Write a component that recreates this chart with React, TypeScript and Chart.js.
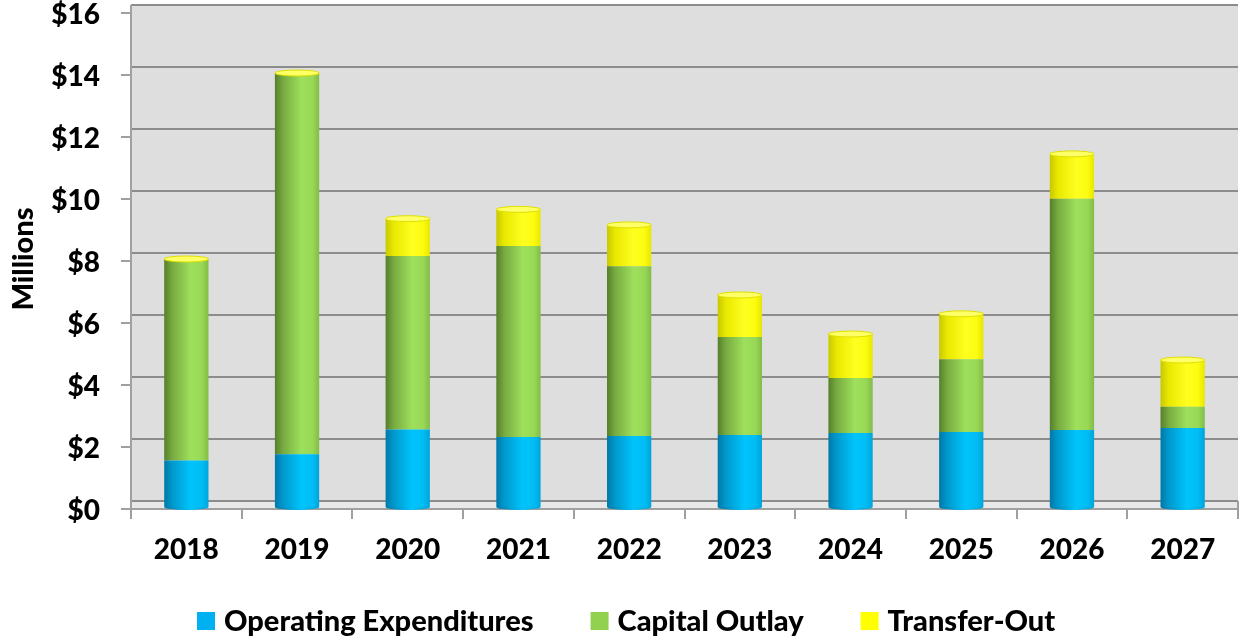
import { useEffect, useRef } from 'react';
import { Chart, registerables } from 'chart.js';

Chart.register(...registerables);

const categories = ['2018', '2019', '2020', '2021', '2022', '2023', '2024', '2025', '2026', '2027'];
const operating = [1.5, 1.7, 2.5, 2.26, 2.29, 2.32, 2.39, 2.42, 2.48, 2.55];
const capital = [6.5, 12.3, 5.6, 6.16, 5.48, 3.16, 1.77, 2.35, 7.46, 0.68];
const transfer = [0, 0, 1.2, 1.18, 1.33, 1.36, 1.42, 1.46, 1.45, 1.51];
const seriesNames = ['Operating Expenditures', 'Capital Outlay', 'Transfer-Out'];
const yTickValues = [0, 2, 4, 6, 8, 10, 12, 14, 16];

const legendColors = ['#00B0F0', '#92D050', '#FFFF00'];
const gradStops = [
  ['#0078A8', '#0098CC', '#00C4FC', '#00BDF4', '#00A4DA'],
  ['#557F2A', '#77AA40', '#9EE05C', '#98D856', '#82BC46'],
  ['#C8C800', '#E8E800', '#FFFF20', '#FCFC10', '#E6E600'],
];
const capColors = ['#40C8F8', '#B0E878', '#FFFF66'];

const BAR_PCT = 0.4;
const WALL_SHIFT = 6;
const FONT = 'Lato';
const WEIGHT = '900';

function cylinder(series: number) {
  return (c: any) => {
    const chart = c.chart;
    const xs = chart.scales && chart.scales.x;
    if (!xs || c.dataIndex === undefined) return legendColors[series];
    const cx = xs.getPixelForValue(c.dataIndex);
    const w = (xs.width / categories.length) * BAR_PCT;
    if (!isFinite(cx) || !isFinite(w) || w <= 0) return legendColors[series];
    const g = chart.ctx.createLinearGradient(cx - w / 2, 0, cx + w / 2, 0);
    const s = gradStops[series];
    g.addColorStop(0, s[0]);
    g.addColorStop(0.18, s[1]);
    g.addColorStop(0.6, s[2]);
    g.addColorStop(0.85, s[3]);
    g.addColorStop(1, s[4]);
    return g;
  };
}

const wallPlugin = {
  id: 'wall',
  beforeDatasetsDraw(chart: any) {
    const { ctx, chartArea, scales } = chart;
    const y = scales.y;
    const x = scales.x;
    const L = Math.round(chartArea.left);
    const R = Math.round(chartArea.right);
    const gy = (v: number) => Math.round(y.getPixelForValue(v)) - WALL_SHIFT;
    const top = gy(16);
    const floor = gy(0);
    ctx.save();
    ctx.fillStyle = '#DEDEDE';
    ctx.fillRect(L, top, R - L, floor - top);
    ctx.fillStyle = '#E8E8E8';
    ctx.fillRect(L, floor, R - L, 8);
    ctx.strokeStyle = '#8C8C8C';
    ctx.lineWidth = 2;
    ctx.beginPath();
    for (const v of yTickValues) {
      const yy = gy(v);
      ctx.moveTo(L, yy);
      ctx.lineTo(R, yy);
    }
    ctx.stroke();
    ctx.strokeStyle = '#A0A0A0';
    ctx.beginPath();
    ctx.moveTo(L, floor + 8);
    ctx.lineTo(R, floor + 8);
    ctx.moveTo(L, top);
    ctx.lineTo(L, floor + 18);
    ctx.moveTo(R, floor);
    ctx.lineTo(R, floor + 18);
    for (const v of yTickValues) {
      const yy = Math.round(y.getPixelForValue(v)) + 2;
      ctx.moveTo(L - 10, yy);
      ctx.lineTo(L, yy);
    }
    const cw = x.width / categories.length;
    for (let i = 1; i < categories.length; i++) {
      const xx = Math.round(L + i * cw);
      ctx.moveTo(xx, floor + 8);
      ctx.lineTo(xx, floor + 18);
    }
    ctx.stroke();
    ctx.restore();
  },
  afterDatasetsDraw(chart: any) {
    const { ctx } = chart;
    const base = chart.getDatasetMeta(0);
    const topMeta = chart.getDatasetMeta(2);
    ctx.save();
    for (let i = 0; i < categories.length; i++) {
      const b = base.data[i];
      const t = topMeta.data[i];
      if (!b || !t) continue;
      const w = b.width;
      if (!isFinite(w) || !isFinite(b.x)) continue;
      const gb = ctx.createLinearGradient(b.x - w / 2, 0, b.x + w / 2, 0);
      gb.addColorStop(0, gradStops[0][0]);
      gb.addColorStop(0.6, gradStops[0][2]);
      gb.addColorStop(1, gradStops[0][4]);
      ctx.fillStyle = gb;
      ctx.beginPath();
      ctx.ellipse(b.x, b.base, w / 2, 3, 0, 0, Math.PI);
      ctx.fill();
      ctx.fillStyle = capColors[2];
      ctx.strokeStyle = '#E0E000';
      ctx.lineWidth = 1;
      ctx.beginPath();
      ctx.ellipse(t.x, t.y, w / 2, 3, 0, 0, Math.PI * 2);
      ctx.fill();
      ctx.stroke();
    }
    ctx.restore();
  },
};

const legendPlugin = {
  id: 'customLegend',
  afterDraw(chart: any) {
    const { ctx, width } = chart;
    ctx.save();
    ctx.font = `${WEIGHT} 29px ${FONT}`;
    ctx.textBaseline = 'middle';
    ctx.textAlign = 'left';
    const box = 18;
    const gapBoxText = 9;
    const gapItems = 57;
    const labels = chart.data.datasets.map((d: any) => d.label as string);
    const widths = labels.map((l: string) => ctx.measureText(l).width);
    let total = 0;
    widths.forEach((w: number, i: number) => {
      total += box + gapBoxText + w + (i < widths.length - 1 ? gapItems : 0);
    });
    let xx = Math.round((width - total) / 2) + 4;
    const cy = 621;
    labels.forEach((l: string, i: number) => {
      ctx.fillStyle = legendColors[i];
      ctx.fillRect(xx, cy - 9, box, box);
      ctx.fillStyle = '#000000';
      ctx.fillText(l, xx + box + gapBoxText, cy + 1);
      xx += box + gapBoxText + widths[i] + gapItems;
    });
    ctx.restore();
  },
};

export default function App() {
  const ref = useRef<HTMLCanvasElement | null>(null);
  useEffect(() => {
    if (!ref.current) return;
    document.body.style.margin = '0';
    const chart = new Chart(ref.current, {
      type: 'bar',
      data: {
        labels: categories,
        datasets: [
          { label: seriesNames[0], data: operating, backgroundColor: cylinder(0) as any, borderWidth: 0 },
          { label: seriesNames[1], data: capital, backgroundColor: cylinder(1) as any, borderWidth: 0 },
          { label: seriesNames[2], data: transfer, backgroundColor: cylinder(2) as any, borderWidth: 0 },
        ],
      },
      options: {
        responsive: false,
        animation: false,
        layout: { padding: { top: 11, right: 7, left: 0, bottom: 0 } },
        datasets: { bar: { barPercentage: BAR_PCT, categoryPercentage: 1 } },
        plugins: {
          legend: { display: false },
          tooltip: { enabled: false },
        },
        scales: {
          x: {
            stacked: true,
            grid: { display: false, drawTicks: false },
            border: { display: false },
            ticks: {
              padding: 26,
              color: '#000000',
              font: { family: FONT, size: 28, weight: WEIGHT as any },
              maxRotation: 0,
            },
            afterFit: (s: any) => {
              s.height = 130;
              s.paddingLeft = 0;
              s.paddingRight = 0;
            },
          },
          y: {
            stacked: true,
            min: 0,
            max: 16,
            grid: { display: false, drawTicks: false },
            border: { display: false },
            ticks: {
              stepSize: 2,
              padding: 31,
              labelOffset: 4,
              color: '#000000',
              font: { family: FONT, size: 28, weight: WEIGHT as any },
              callback: (v: any) => '$' + v,
            },
            title: {
              display: true,
              text: 'Millions',
              color: '#000000',
              font: { family: FONT, size: 29, weight: WEIGHT as any },
              padding: { top: 6, bottom: 0 },
            },
            afterFit: (s: any) => {
              s.width = 131;
              s.paddingTop = 0;
              s.paddingBottom = 0;
            },
          },
        },
      },
      plugins: [wallPlugin, legendPlugin],
    });
    return () => chart.destroy();
  }, []);
  return (
    <div style={{ position: 'fixed', left: 0, top: 0, width: 1245, height: 637, background: '#ffffff' }}>
      <canvas ref={ref} width={1245} height={637} style={{ width: 1245, height: 637, display: 'block' }} />
    </div>
  );
}
